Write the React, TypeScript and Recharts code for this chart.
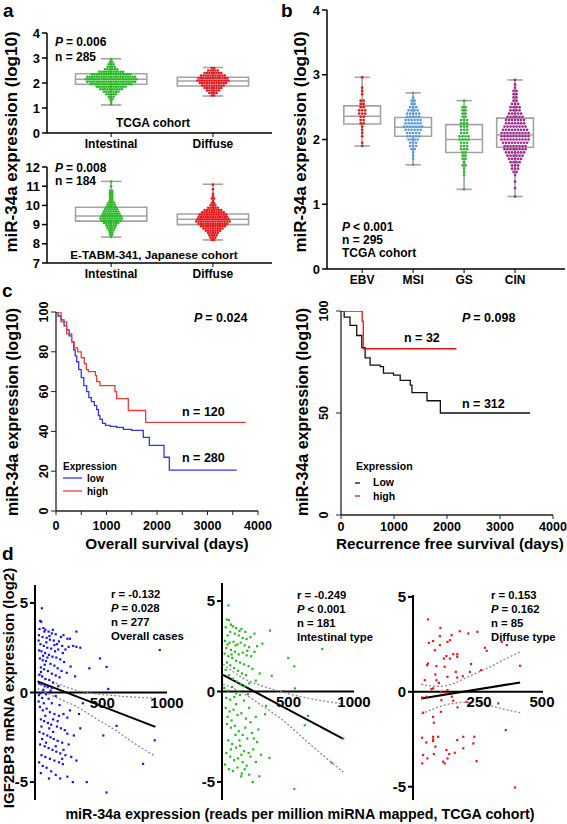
import React from 'react';
import {
  ComposedChart, Scatter, Line, XAxis, YAxis,
  ReferenceArea, ReferenceLine, ReferenceDot,
} from 'recharts';

const FONT = '"Liberation Sans", Arial, Helvetica, sans-serif';
const BOX = '#a3a3a3';

// ---- panel a: swarm rows, [value, dots in row]
const laurenTypes = ['Intestinal', 'Diffuse'];
const tcgaIntestinalRows = [[2.95,1],[2.85,2],[2.75,3],[2.65,4],[2.55,6],[2.45,11],[2.35,17],[2.25,21],[2.15,22],[2.05,21],[1.95,18],[1.85,13],[1.75,10],[1.65,7],[1.55,5],[1.45,3],[1.35,2],[1.25,1],[1.15,1]];
const tcgaDiffuseRows = [[2.6,2],[2.5,5],[2.4,8],[2.3,11],[2.2,13],[2.1,14],[2.0,12],[1.9,10],[1.8,8],[1.7,6],[1.6,4],[1.5,2]];
const japIntestinalRows = [[11.24,1],[11.0,1],[10.76,2],[10.64,2],[10.52,2],[10.4,2],[10.28,2],[10.16,3],[10.04,4],[9.92,5],[9.8,6],[9.68,7],[9.56,8],[9.44,9],[9.32,10],[9.2,9],[9.08,7],[8.96,5],[8.84,4],[8.72,3],[8.6,2],[8.48,2],[8.36,1]];
const japDiffuseRows = [[11.08,1],[10.84,1],[10.6,1],[10.48,1],[10.36,2],[10.24,1],[10.12,2],[10.0,3],[9.88,5],[9.76,8],[9.64,10],[9.52,12],[9.4,13],[9.28,14],[9.16,15],[9.04,13],[8.92,11],[8.8,9],[8.68,7],[8.56,5],[8.44,4],[8.32,3],[8.2,2]];
// box stats [min, q1, median, q3, max]
const tcgaIntestinalBox = [1.12, 1.95, 2.15, 2.37, 2.97];
const tcgaDiffuseBox = [1.48, 1.88, 2.08, 2.23, 2.62];
const japIntestinalBox = [8.35, 9.18, 9.45, 9.9, 11.25];
const japDiffuseBox = [8.2, 9.0, 9.28, 9.55, 11.1];

// ---- panel b
const molecularTypes = ['EBV', 'MSI', 'GS', 'CIN'];
const ebvRows = [[2.96,1],[2.8,1],[2.75,1],[2.7,1],[2.6,2],[2.55,2],[2.5,2],[2.45,3],[2.4,3],[2.35,2],[2.3,2],[2.25,2],[2.2,1],[2.15,1],[2.1,1],[2.05,1],[1.95,1],[1.9,1]];
const msiRows = [[2.72,1],[2.65,1],[2.6,2],[2.55,2],[2.5,3],[2.45,4],[2.4,5],[2.35,5],[2.3,6],[2.25,6],[2.2,7],[2.15,6],[2.1,5],[2.05,5],[2.0,4],[1.95,3],[1.9,3],[1.85,2],[1.8,1],[1.75,1],[1.7,1],[1.61,1]];
const gsRows = [[2.6,1],[2.5,2],[2.45,2],[2.4,2],[2.35,2],[2.3,3],[2.25,3],[2.2,3],[2.15,3],[2.1,3],[2.05,4],[2.0,4],[1.95,3],[1.9,3],[1.85,3],[1.8,2],[1.75,2],[1.7,2],[1.65,1],[1.6,2],[1.55,1],[1.5,1],[1.45,1],[1.23,1]];
const cinRows = [[2.92,1],[2.85,1],[2.8,1],[2.75,2],[2.7,2],[2.65,2],[2.6,2],[2.55,3],[2.5,4],[2.45,4],[2.4,5],[2.35,6],[2.3,7],[2.25,7],[2.2,8],[2.15,9],[2.1,10],[2.05,10],[2.0,10],[1.95,9],[1.9,8],[1.85,8],[1.8,7],[1.75,6],[1.7,5],[1.65,4],[1.6,3],[1.55,3],[1.5,2],[1.45,1],[1.35,1],[1.25,1],[1.12,1]];
const ebvBox = [1.9, 2.24, 2.36, 2.52, 2.96];
const msiBox = [1.61, 2.05, 2.19, 2.34, 2.72];
const gsBox = [1.23, 1.8, 2.0, 2.23, 2.6];
const cinBox = [1.12, 1.88, 2.07, 2.33, 2.92];

// ---- panel c: Kaplan-Meier steps [days, % surviving]
const osLow = [[0,100],[40,98],[100,96],[160,93],[211,91],[260,88],[310,85],[350,81],[380,78],[410,75],[450,71],[500,67],[550,63],[607,60],[650,57],[700,55],[760,53],[805,51],[840,48],[871,46],[920,44],[980,43],[1069,42.5],[1200,42],[1333,41],[1500,40.5],[1729,37],[1848,33],[2139,27],[2244,20.5],[3578,20.5]];
const osHigh = [[0,100],[100,95],[211,89],[310,85],[360,82],[430,80],[500,77],[560,74],[600,71],[640,70],[780,68],[805,65],[871,63],[1168,60],[1201,56.5],[1432,50.5],[1776,44.5],[3756,44.5]];
const rfsLow = [[0,100],[60,97],[170,93],[297,88],[392,82],[455,77],[549,73.5],[739,72.7],[801,69.5],[991,68.6],[1117,66],[1307,63.7],[1339,60],[1623,56],[1875,50],[3567,50]];
const rfsHigh = [[0,100],[380,100],[400,95],[420,81.5],[2178,81.5]];

// ---- panel d: [miR-34a RPM, IGF2BP3 log2]
const overallPts = [[33,4.7],[20,4.0],[28,3.95],[45,3.6],[15,3.55],[60,3.5],[52,3.4],[85,3.4],[110,3.3],[140,3.25],[180,3.1],[200,3.2],[230,3.0],[250,3.0],[300,3.4],[275,2.6],[300,2.55],[330,2.5],[10,3.2],[38,3.1],[70,3.05],[95,2.95],[125,2.9],[150,2.7],[165,2.85],[22,2.7],[48,2.6],[75,2.5],[105,2.45],[135,2.3],[160,2.4],[195,2.2],[215,2.4],[240,2.55],[12,2.35],[30,2.3],[58,2.2],[88,2.1],[115,2.0],[145,1.95],[175,1.85],[205,1.7],[255,1.45],[400,1.35],[482,1.9],[533,1.43],[944,2.37],[18,1.9],[40,1.8],[65,1.75],[100,1.6],[130,1.5],[155,1.35],[185,1.2],[225,1.1],[25,1.4],[50,1.3],[80,1.2],[110,1.05],[140,0.95],[170,0.85],[290,0.9],[15,1.0],[35,0.9],[60,0.75],[90,0.7],[120,0.55],[42,2.05],[68,2.8],[92,3.15],[118,3.5],[76,1.95],[130,2.65],[190,2.6],[55,1.55],[8,2.9],[26,1.15],
  [12,0.5],[30,0.45],[55,0.35],[78,0.3],[45,0.15],[100,0.1],[20,-0.05],[65,-0.1],[140,-0.2],[546,0.2],[35,-0.3],[85,-0.35],[110,0.25],[160,0.35],[10,-0.15],
  [18,-0.8],[40,-1.0],[70,-0.9],[95,-1.1],[130,-1.2],[165,-1.3],[200,-1.2],[230,-1.4],[610,-1.86],[508,-2.4],[905,-2.67],[815,-3.98],[533,-5.58],[380,-5.0],[272,-5.0],[25,-1.5],[50,-1.6],[80,-1.7],[105,-1.8],[150,-1.9],[180,-2.0],[210,-2.1],[15,-2.2],[45,-2.3],[75,-2.4],[100,-2.5],[125,-2.6],[155,-2.7],[190,-2.8],[240,-2.9],[20,-2.9],[55,-3.0],[85,-3.1],[115,-3.2],[145,-3.3],[175,-3.4],[215,-3.5],[260,-3.6],[30,-3.5],[60,-3.6],[95,-3.7],[130,-3.8],[165,-3.9],[195,-4.0],[12,-3.9],[40,-4.1],[70,-4.2],[105,-4.4],[140,-4.6],[175,-4.8],[230,-4.7],[25,-4.5],[60,-1.3],[90,-2.0],[120,-2.2],[35,-2.6],[65,-2.8],[140,-3.0],[200,-3.2],[110,-0.6],[170,-0.7],[250,-1.0],[320,-1.2],[300,-3.8],[280,-2.4],[8,-0.5],[48,-0.6],[88,-4.8],[155,-1.6],[230,-2.3],[120,-1.5],[190,-3.7],[30,-1.9],[350,-0.6],[330,-2.0]];
const overallFit = [[0,0.62],[910,-1.92]];
const overallUpper = [[0,0.98],[150,0.5],[300,0.12],[450,-0.07],[600,-0.18],[750,-0.26],[910,-0.32]];
const overallLower = [[0,0.22],[150,-0.3],[300,-0.78],[450,-1.45],[600,-2.1],[750,-2.85],[910,-3.55]];

const intestinalPts = [[41,4.76],[28,3.98],[45,3.95],[60,3.7],[75,3.6],[20,3.55],[100,3.5],[140,3.45],[170,3.3],[359,3.37],[240,3.2],[210,3.0],[180,2.9],[150,2.95],[120,3.1],[90,3.2],[55,3.3],[35,3.1],[15,2.8],[50,2.7],[80,2.75],[110,2.6],[135,2.7],[165,2.55],[200,2.45],[260,2.5],[300,2.65],[757,2.35],[498,1.85],[544,1.39],[25,2.4],[60,2.3],[90,2.2],[120,2.05],[150,2.15],[180,2.0],[215,1.95],[240,2.2],[12,2.1],[40,1.95],[70,1.85],[100,1.7],[130,1.6],[160,1.5],[195,1.4],[225,1.25],[280,1.0],[372,0.87],[30,1.6],[55,1.45],[85,1.3],[115,1.15],[145,1.0],[175,0.9],[20,1.2],[45,0.9],[75,0.7],[105,0.55],[135,0.4],[165,0.3],[200,0.45],[250,0.6],[549,0.17],[65,2.05],[95,2.55],[125,3.35],[185,2.25],[35,2.6],
  [10,0.2],[40,0.05],[70,0.25],[100,-0.1],[130,-0.2],[25,-0.35],[55,-0.45],[85,-0.3],[160,-0.5],[190,-0.15],
  [328,-0.8],[321,-1.26],[649,-1.35],[624,-1.87],[830,-3.94],[544,-5.39],[918,-2.6],[277,-4.69],[227,-5.0],[143,-4.54],[138,-4.69],[15,-4.04],[354,-3.67],[20,-0.9],[50,-1.1],[80,-1.0],[110,-1.3],[140,-1.2],[175,-1.5],[210,-1.7],[250,-1.4],[30,-1.8],[60,-2.0],[90,-1.9],[120,-2.2],[150,-2.4],[185,-2.6],[220,-2.3],[260,-2.8],[40,-2.7],[70,-2.9],[100,-3.1],[130,-3.0],[160,-3.3],[195,-3.4],[230,-3.2],[290,-3.5],[25,-3.4],[55,-3.6],[85,-3.8],[115,-3.7],[150,-3.9],[180,-4.1],[210,-3.6],[250,-3.9],[45,-4.3],[75,-4.4],[110,-4.2],[165,-4.3],[200,-4.6],[35,-1.4],[65,-1.6],[95,-2.4],[125,-2.7],[170,-2.0],[235,-2.6],[60,-3.2],[140,-3.5],[100,-0.7],[200,-0.9],[270,-2.1]];
const intestinalFit = [[0,0.92],[918,-2.62]];
const intestinalUpper = [[0,1.52],[150,0.75],[300,0.3],[450,-0.02],[600,-0.3],[750,-0.5],[918,-0.7]];
const intestinalLower = [[0,0.4],[150,-0.08],[300,-0.8],[450,-1.55],[600,-2.5],[750,-3.45],[918,-4.45]];

const diffusePts = [[47,3.81],[96,3.37],[94,2.93],[141,2.98],[134,2.72],[124,2.63],[173,3.19],[207,3.07],[243,3.16],[67,2.67],[50,2.58],[94,2.46],[74,2.19],[273,2.32],[280,2.16],[340,2.63],[360,2.46],[147,1.98],[163,1.98],[120,1.88],[110,1.75],[134,1.75],[47,1.49],[43,1.4],[113,1.32],[80,1.35],[218,1.46],[257,1.14],[413,1.37],[157,1.05],[76,0.91],[185,0.82],[163,0.75],[34,0.61],[90,0.47],[67,0.18],[60,0.14],[98,-0.02],[23,-0.3],[40,-0.26],[100,-0.44],[147,-0.47],[200,-0.53],[164,-0.82],[326,-0.61],[27,-1.1],[67,-1.32],[70,-1.63],[356,-2.02],[23,-2.42],[67,-2.37],[67,-2.51],[67,-2.6],[87,-2.37],[163,-2.54],[187,-2.37],[231,-2.37],[227,-2.72],[40,-2.67],[76,-2.89],[187,-2.98],[27,-3.33],[70,-3.28],[120,-3.07],[131,-3.28],[107,-3.68],[113,-3.77],[124,-3.51],[24,-3.77],[44,-3.51],[153,-3.21],[240,-3.65],[393,-5.04],[124,0.09],[116,-0.05],[141,-0.26],[98,-1.05],[124,0.79],[213,1.05],[163,1.84],[80,0.61]];
const diffuseFit = [[20,-0.35],[413,0.49]];
const diffuseUpper = [[20,0.4],[60,0.3],[100,0.29],[150,0.45],[200,0.75],[250,1.05],[300,1.35],[350,1.7],[413,2.1]];
const diffuseLower = [[20,-1.17],[60,-0.95],[100,-0.75],[150,-0.6],[200,-0.55],[250,-0.6],[300,-0.75],[350,-0.92],[413,-1.1]];

const toXY = (a: number[][]) => a.map(([x, y]) => ({ x, y }));
const swarm = (rows: number[][], pos: number, step: number) =>
  rows.flatMap(([v, n]) => Array.from({ length: n }, (_, i) => ({ x: pos + (i - (n - 1) / 2) * step, y: v })));

const tickStyle = (size: number) => ({ fill: '#000', fontSize: size, fontWeight: 'bold', fontFamily: FONT });
const axisStyle = { stroke: '#000', strokeWidth: 1.5 };

const boxParts = (key: string, pos: number, s: number[], half: number, cap: number) => {
  const [mn, q1, md, q3, mx] = s;
  const st = { stroke: BOX, strokeWidth: 1.6, ifOverflow: 'visible' as const };
  return [
    <ReferenceLine key={key + 'w1'} segment={[{ x: pos, y: mn }, { x: pos, y: q1 }]} {...st} />,
    <ReferenceLine key={key + 'w2'} segment={[{ x: pos, y: q3 }, { x: pos, y: mx }]} {...st} />,
    <ReferenceLine key={key + 'c1'} segment={[{ x: pos - cap, y: mn }, { x: pos + cap, y: mn }]} {...st} />,
    <ReferenceLine key={key + 'c2'} segment={[{ x: pos - cap, y: mx }, { x: pos + cap, y: mx }]} {...st} />,
    <ReferenceArea key={key + 'b'} x1={pos - half} x2={pos + half} y1={q1} y2={q3} fill="none" fillOpacity={0} stroke={BOX} strokeWidth={1.6} />,
    <ReferenceLine key={key + 'm'} segment={[{ x: pos - half, y: md }, { x: pos + half, y: md }]} {...st} />,
  ];
};

const dot = (fill: string, r: number) => (p: any) => <circle cx={p.cx} cy={p.cy} r={r} fill={fill} />;
const sq = (fill: string) => (p: any) => <rect x={p.cx - 1.1} y={p.cy - 1.1} width={2.2} height={2.2} fill={fill} />;

const Abs = ({ left, top, children }: any) => (
  <div style={{ position: 'absolute', left, top }}>{children}</div>
);

function BoxSwarm({ width, height, margin, xDomain, yDomain, yTicks, cats, groups, half, cap, step, r, yw }: any) {
  return (
    <ComposedChart width={width} height={height} margin={margin}>
      <XAxis type="number" dataKey="x" domain={xDomain} allowDataOverflow ticks={cats.map((_: any, i: number) => i)}
        interval={0} tickFormatter={(v: number) => cats[v]} height={20} tick={tickStyle(12)} axisLine={axisStyle}
        tickLine={{ stroke: '#000' }} tickSize={4} tickMargin={2} />
      <YAxis type="number" dataKey="y" domain={yDomain} allowDataOverflow ticks={yTicks} interval={0} width={yw}
        tick={tickStyle(13)} axisLine={axisStyle} tickLine={axisStyle} tickSize={5} tickMargin={2} />
      {groups.map((g: any, i: number) => boxParts('g' + i, i, g.box, half, cap))}
      {groups.map((g: any, i: number) => (
        <Scatter key={'s' + i} data={swarm(g.rows, i, step)} shape={dot(g.color, r)} isAnimationActive={false} />
      ))}
    </ComposedChart>
  );
}

const VertTick = (props: any) => {
  const { x, y, payload } = props;
  return (
    <text x={x} y={y} transform={`rotate(-90 ${x} ${y})`} textAnchor="middle" fontSize={12.5}
      fontWeight="bold" fontFamily={FONT} fill="#000">{payload.value}</text>
  );
};

function KM({ width, height, margin, yTicks, xTicks, curves, yTickMargin, xTickMargin }: any) {
  return (
    <ComposedChart width={width} height={height} margin={margin}>
      <XAxis type="number" dataKey="x" domain={[0, 4000]} allowDataOverflow ticks={xTicks} interval={0}
        tickFormatter={(v: number) => (v % 1000 === 0 ? String(v) : '')} height={22} tick={tickStyle(12.5)}
        axisLine={{ stroke: '#222', strokeWidth: 1.3 }} tickLine={{ stroke: '#222' }} tickSize={4} tickMargin={xTickMargin} />
      <YAxis type="number" dataKey="y" domain={[0, 100]} allowDataOverflow ticks={yTicks} interval={0} width={20}
        tick={<VertTick />} axisLine={{ stroke: '#222', strokeWidth: 1.3 }} tickLine={{ stroke: '#222' }}
        tickSize={5} tickMargin={yTickMargin} />
      {curves.map((c: any, i: number) => (
        <Line key={i} data={toXY(c.pts)} dataKey="y" type="stepAfter" stroke={c.color} strokeWidth={1.3}
          dot={false} isAnimationActive={false} />
      ))}
    </ComposedChart>
  );
}

function Corr({ width, height, margin, xDomain, yDomain, pts, color, fit, upper, lower, xLabels }: any) {
  const lab = (v: number) => ({ value: String(v), position: 'bottom', offset: 5, fill: '#000', fontSize: 15, fontWeight: 'bold', fontFamily: FONT });
  return (
    <ComposedChart width={width} height={height} margin={margin}>
      <XAxis type="number" dataKey="x" domain={xDomain} allowDataOverflow hide />
      <YAxis type="number" dataKey="y" domain={yDomain} allowDataOverflow ticks={[-5, 0, 5]} interval={0} width={22}
        tick={tickStyle(15)} axisLine={{ stroke: '#000', strokeWidth: 2 }} tickLine={{ stroke: '#000', strokeWidth: 2 }}
        tickSize={5} tickMargin={2} />
      <ReferenceLine y={0} stroke="#000" strokeWidth={2} />
      {xLabels.map((v: number) => (
        <ReferenceDot key={v} x={v} y={0} r={0} fill="none" stroke="none" label={lab(v)} />
      ))}
      <Scatter data={toXY(pts)} shape={sq(color)} isAnimationActive={false} />
      <Line data={toXY(upper)} dataKey="y" type="monotone" stroke="#8a8a8a" strokeWidth={1.3} strokeDasharray="2 2" dot={false} isAnimationActive={false} />
      <Line data={toXY(lower)} dataKey="y" type="monotone" stroke="#8a8a8a" strokeWidth={1.3} strokeDasharray="2 2" dot={false} isAnimationActive={false} />
      <Line data={toXY(fit)} dataKey="y" type="linear" stroke="#000" strokeWidth={2} dot={false} isAnimationActive={false} />
    </ComposedChart>
  );
}

const T = ({ x, y, size = 12, anchor = 'start', children }: any) => (
  <text x={x} y={y} fontSize={size} fontWeight="bold" fontFamily={FONT} textAnchor={anchor} fill="#000">{children}</text>
);
const VT = ({ cx, cy, size, children }: any) => (
  <text transform={`translate(${cx + size * 0.36} ${cy}) rotate(-90)`} fontSize={size} fontWeight="bold"
    fontFamily={FONT} textAnchor="middle" fill="#000">{children}</text>
);
const PItal = ({ rest }: any) => (<><tspan fontStyle="italic">P</tspan><tspan dx={3}>{rest}</tspan></>);

export default function App() {
  const green = '#27b827';
  const red = '#e5191e';
  return (
    <div style={{ position: 'absolute', left: 0, top: 0, width: 567, height: 824, background: '#fff', overflow: 'hidden' }}>
      <Abs left={0} top={0}>
        <BoxSwarm width={280} height={155} margin={{ top: 33, right: 8, bottom: 2, left: 27 }} yw={20}
          xDomain={[-0.63, 1.58]} yDomain={[0, 4]} yTicks={[0, 1, 2, 3, 4]} cats={laurenTypes}
          half={0.35} cap={0.1} step={0.0235} r={1.3}
          groups={[{ rows: tcgaIntestinalRows, box: tcgaIntestinalBox, color: green },
                   { rows: tcgaDiffuseRows, box: tcgaDiffuseBox, color: red }]} />
      </Abs>
      <Abs left={0} top={150}>
        <BoxSwarm width={280} height={135} margin={{ top: 17, right: 8, bottom: 2, left: 27 }} yw={20}
          xDomain={[-0.63, 1.58]} yDomain={[7, 12]} yTicks={[7, 8, 9, 10, 11, 12]} cats={laurenTypes}
          half={0.35} cap={0.1} step={0.0235} r={1.3}
          groups={[{ rows: japIntestinalRows, box: japIntestinalBox, color: green },
                   { rows: japDiffuseRows, box: japDiffuseBox, color: red }]} />
      </Abs>
      <Abs left={280} top={0}>
        <BoxSwarm width={287} height={291} margin={{ top: 10, right: 2, bottom: 2, left: 25 }} yw={22}
          xDomain={[-0.69, 3.98]} yDomain={[0, 4]} yTicks={[0, 1, 2, 3, 4]} cats={molecularTypes}
          half={0.36} cap={0.15} step={0.059} r={1.35}
          groups={[{ rows: ebvRows, box: ebvBox, color: '#e3161b' },
                   { rows: msiRows, box: msiBox, color: '#5a9be0' },
                   { rows: gsRows, box: gsBox, color: '#2cb82c' },
                   { rows: cinRows, box: cinBox, color: '#a0288f' }]} />
      </Abs>
      <Abs left={0} top={290}>
        <KM width={282} height={245} margin={{ top: 22, right: 24, bottom: 2, left: 36 }}
          yTicks={[0, 20, 40, 60, 80, 100]} xTicks={[0, 500, 1000, 1500, 2000, 2500, 3000, 3500, 4000]}
          yTickMargin={3} xTickMargin={6}
          curves={[{ pts: osLow, color: '#3535e8' }, { pts: osHigh, color: '#f03c3c' }]} />
      </Abs>
      <Abs left={280} top={290}>
        <KM width={287} height={249} margin={{ top: 21, right: 14, bottom: 2, left: 41 }}
          yTicks={[0, 50, 100]} xTicks={[0, 1000, 2000, 3000, 4000]}
          yTickMargin={8} xTickMargin={3}
          curves={[{ pts: rfsLow, color: '#111' }, { pts: rfsHigh, color: '#e81010' }]} />
      </Abs>
      <Abs left={0} top={575}>
        <Corr width={187} height={227} margin={{ top: 10, right: 20, bottom: 2, left: 13 }}
          xDomain={[-20, 1000]} yDomain={[-6, 6]} pts={overallPts} color="#1414f0"
          fit={overallFit} upper={overallUpper} lower={overallLower} xLabels={[500, 1000]} />
      </Abs>
      <Abs left={190} top={573}>
        <Corr width={184} height={229} margin={{ top: 10, right: 20, bottom: 2, left: 10 }}
          xDomain={[-8, 1000]} yDomain={[-6, 6]} pts={intestinalPts} color="#22bb22"
          fit={intestinalFit} upper={intestinalUpper} lower={intestinalLower} xLabels={[500, 1000]} />
      </Abs>
      <Abs left={380} top={585}>
        <Corr width={183} height={217} margin={{ top: 10, right: 20, bottom: 2, left: 11 }}
          xDomain={[-13, 504]} yDomain={[-5.7, 5.1]} pts={diffusePts} color="#dd1f1f"
          fit={diffuseFit} upper={diffuseUpper} lower={diffuseLower} xLabels={[250, 500]} />
      </Abs>

      <svg width={567} height={824} style={{ position: 'absolute', left: 0, top: 0, pointerEvents: 'none' }}>
        <T x={3} y={17} size={19}>a</T>
        <T x={281} y={17} size={19}>b</T>
        <T x={2} y={297} size={19}>c</T>
        <T x={2} y={560} size={19}>d</T>

        <VT cx={11} cy={142} size={17}>miR-34a expression (log10)</VT>
        <T x={55} y={46}><PItal rest="= 0.006" /></T>
        <T x={55} y={61}>n = 285</T>
        <T x={153} y={127} anchor="middle">TCGA cohort</T>
        <T x={55} y={172}><PItal rest="= 0.008" /></T>
        <T x={55} y={185}>n = 184</T>
        <T x={154} y={259} size={11.7} anchor="middle">E-TABM-341, Japanese cohort</T>

        <VT cx={300} cy={142} size={17}>miR-34a expression (log10)</VT>
        <T x={342} y={231}><PItal rest="< 0.001" /></T>
        <T x={342} y={244}>n = 295</T>
        <T x={342} y={257}>TCGA cohort</T>

        <VT cx={12} cy={412} size={16}>miR-34a expression (log10)</VT>
        <T x={194} y={322} size={12.5}><PItal rest="= 0.024" /></T>
        <T x={182} y={416} size={12.5}>n = 120</T>
        <T x={182} y={462} size={12.5}>n = 280</T>
        <T x={63} y={470} size={10}>Expression</T>
        <line x1={63} x2={82} y1={478} y2={478} stroke="#3535e8" strokeWidth={1.3} />
        <T x={87} y={482} size={10}>low</T>
        <line x1={63} x2={82} y1={491} y2={491} stroke="#f03c3c" strokeWidth={1.3} />
        <T x={87} y={495} size={10}>high</T>
        <T x={167} y={549} size={15.3} anchor="middle">Overall survival (days)</T>

        <VT cx={302} cy={412} size={16}>miR-34a expression (log10)</VT>
        <T x={462} y={322} size={12.5}><PItal rest="= 0.098" /></T>
        <T x={404} y={342} size={12.5}>n = 32</T>
        <T x={462} y={408} size={12.5}>n = 312</T>
        <T x={356} y={470} size={10.5}>Expression</T>
        <line x1={355} x2={360} y1={483} y2={483} stroke="#111" strokeWidth={1.3} />
        <T x={373} y={486} size={10.5}>Low</T>
        <line x1={355} x2={360} y1={496} y2={496} stroke="#e81010" strokeWidth={1.3} />
        <T x={373} y={500} size={10.5}>high</T>
        <T x={450} y={549} size={15.3} anchor="middle">Recurrence free survival (days)</T>

        <VT cx={9} cy={688} size={15}>IGF2BP3 mRNA expression (log2)</VT>
        <T x={111} y={598} size={11.3}>r = -0.132</T>
        <T x={111} y={612} size={11.3}><PItal rest="= 0.028" /></T>
        <T x={111} y={626} size={11.3}>n = 277</T>
        <T x={111} y={640} size={11.3}>Overall cases</T>
        <T x={297} y={599} size={11.3}>r = -0.249</T>
        <T x={297} y={613} size={11.3}><PItal rest="< 0.001" /></T>
        <T x={297} y={627} size={11.3}>n = 181</T>
        <T x={297} y={641} size={11.3}>Intestinal type</T>
        <T x={491} y={599} size={11.3}>r = 0.153</T>
        <T x={491} y={613} size={11.3}><PItal rest="= 0.162" /></T>
        <T x={491} y={627} size={11.3}>n = 85</T>
        <T x={491} y={641} size={11.3}>Diffuse type</T>
        <T x={300} y={819} size={14.3} anchor="middle">miR-34a expression (reads per million miRNA mapped, TCGA cohort)</T>
      </svg>
    </div>
  );
}
